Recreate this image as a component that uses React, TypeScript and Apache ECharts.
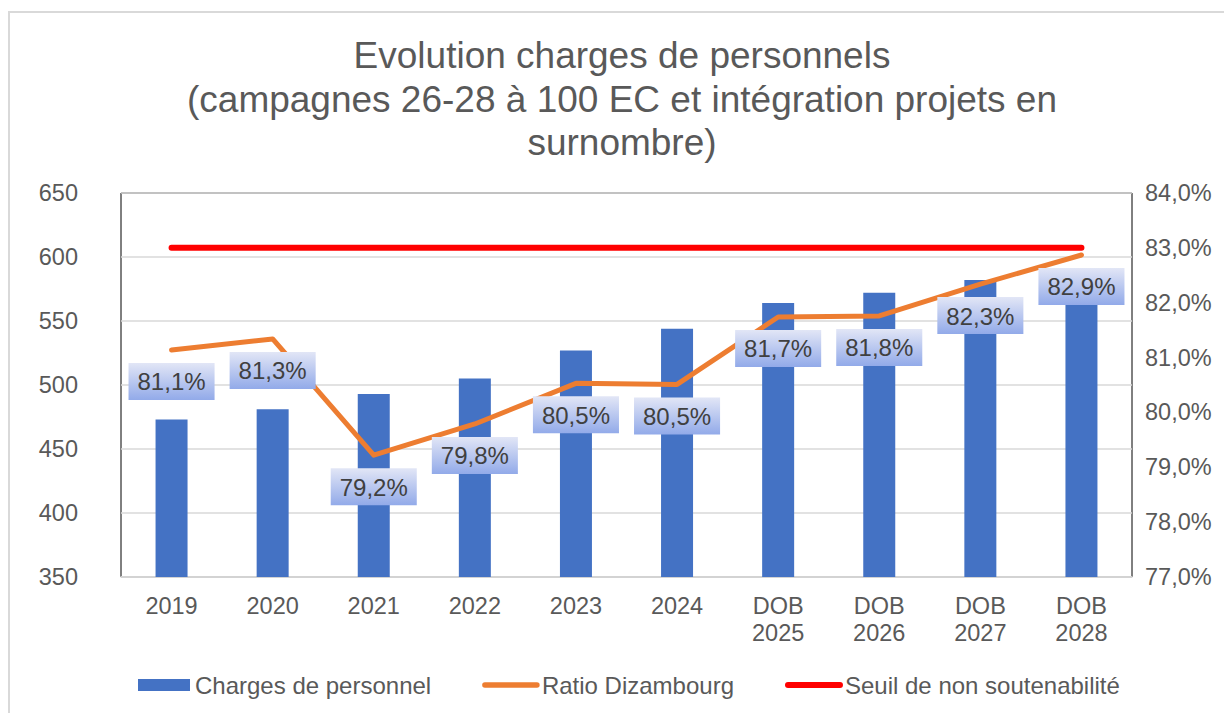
import React, { useEffect, useRef } from "react";
import * as echarts from "echarts";

const categories = ["2019", "2020", "2021", "2022", "2023", "2024", "DOB\n2025", "DOB\n2026", "DOB\n2027", "DOB\n2028"];
const chargesPersonnel = [473, 481, 493, 505, 527, 544, 564, 572, 582, 589];
const ratioDizambourg = [81.14, 81.34, 79.22, 79.79, 80.53, 80.51, 81.74, 81.76, 82.34, 82.87];
const seuilSoutenabilite = [83, 83, 83, 83, 83, 83, 83, 83, 83, 83];
const titleLines = ["Evolution charges de personnels", "(campagnes 26-28 à 100 EC et intégration projets en", "surnombre)"];
const seriesNames = ["Charges de personnel", "Ratio Dizambourg", "Seuil de non soutenabilité"];

const FONT = "'Liberation Sans', Arial, sans-serif";
const pct = (v: number) => v.toFixed(1).replace(".", ",") + "%";
const hiddenSymbol = { color: "rgba(0,0,0,0)", borderWidth: 0, opacity: 0 };

export default function App() {
  const ref = useRef<HTMLDivElement>(null);
  useEffect(() => {
    if (!ref.current) return;
    const chart = echarts.init(ref.current, undefined, { renderer: "svg" });
    chart.setOption({
      animation: false,
      backgroundColor: "#ffffff",
      textStyle: { fontFamily: FONT },
      title: {
        text: titleLines.join("\n"),
        left: 622,
        top: 34,
        padding: 0,
        textAlign: "center",
        textStyle: { fontFamily: FONT, fontSize: 37, lineHeight: 43.5, fontWeight: "normal", color: "#595959" },
      },
      graphic: [
        {
          type: "rect",
          silent: true,
          z: -10,
          shape: { x: 9, y: 12, width: 1240, height: 720 },
          style: { fill: "none", stroke: "#d9d9d9", lineWidth: 2 },
        },
      ],
      legend: {
        left: 138,
        top: 673,
        padding: 0,
        itemWidth: 52,
        itemHeight: 12,
        itemGap: 51,
        textStyle: { fontFamily: FONT, fontSize: 24, color: "#595959" },
        data: [
          { name: seriesNames[0], icon: "rect" },
          { name: seriesNames[1], itemStyle: hiddenSymbol, lineStyle: { color: "#ED7D31", width: 5.5, cap: "round" } },
          { name: seriesNames[2], itemStyle: hiddenSymbol, lineStyle: { color: "#FF0000", width: 6, cap: "round" } },
        ],
      },
      grid: {
        left: 121,
        right: 92,
        top: 193,
        bottom: 136,
        show: true,
        borderColor: "#000000",
        borderWidth: 1,
        backgroundColor: "transparent",
      },
      xAxis: {
        type: "category",
        data: categories,
        axisTick: { show: false },
        axisLine: { show: true, lineStyle: { color: "#d9d9d9", width: 1.5 } },
        axisLabel: { fontFamily: FONT, fontSize: 23.5, lineHeight: 27, color: "#595959", margin: 15 },
      },
      yAxis: [
        {
          type: "value",
          min: 350,
          max: 650,
          interval: 50,
          axisLine: { show: false },
          axisTick: { show: false },
          splitLine: { show: true, lineStyle: { color: "#d9d9d9", width: 1.5 } },
          axisLabel: { fontFamily: FONT, fontSize: 23.5, color: "#595959", margin: 43 },
        },
        {
          type: "value",
          min: 77,
          max: 84,
          interval: 1,
          position: "right",
          axisLine: { show: false },
          axisTick: { show: false },
          splitLine: { show: false },
          axisLabel: { fontFamily: FONT, fontSize: 23.5, color: "#595959", margin: 13, formatter: (v: number) => pct(v) },
        },
      ],
      series: [
        {
          name: seriesNames[0],
          type: "bar",
          data: chargesPersonnel,
          barWidth: 32,
          itemStyle: { color: "#4472C4" },
          z: 2,
        },
        {
          name: seriesNames[1],
          type: "line",
          yAxisIndex: 1,
          data: ratioDizambourg,
          symbol: "circle",
          symbolSize: 0,
          showSymbol: true,
          lineStyle: { color: "#ED7D31", width: 5, cap: "round", join: "round" },
          itemStyle: { color: "#ED7D31" },
          z: 3,
          label: {
            show: true,
            position: "bottom",
            distance: 13,
            formatter: (p: any) => pct(p.value),
            fontFamily: FONT,
            fontSize: 24,
            color: "#404040",
            padding: [7, 9, 6, 9],
            backgroundColor: new echarts.graphic.LinearGradient(0, 0, 0, 1, [
              { offset: 0, color: "#e2e6f6" },
              { offset: 1, color: "#92aae9" },
            ]),
          },
        },
        {
          name: seriesNames[2],
          type: "line",
          yAxisIndex: 1,
          data: seuilSoutenabilite,
          symbol: "none",
          showSymbol: false,
          lineStyle: { color: "#FF0000", width: 6, cap: "round" },
          itemStyle: { color: "#FF0000" },
          z: 4,
        },
      ],
    });
    return () => chart.dispose();
  }, []);
  return <div ref={ref} style={{ position: "absolute", left: 0, top: 0, width: 1224, height: 713 }} />;
}
